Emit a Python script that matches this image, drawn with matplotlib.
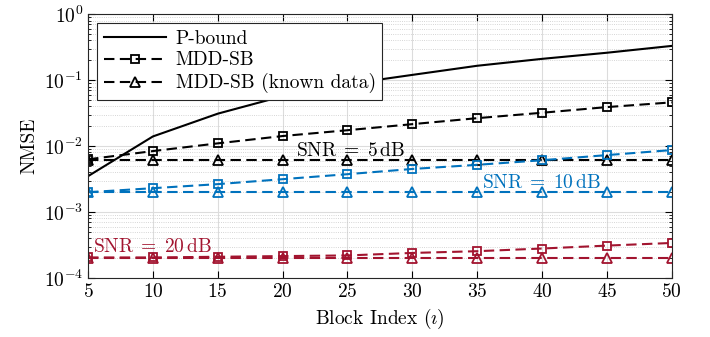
import numpy as np
import matplotlib
matplotlib.use("Agg")
import matplotlib.pyplot as plt

plt.rcParams['font.family'] = 'serif'
plt.rcParams['font.serif'] = ['cmr10']
plt.rcParams['mathtext.fontset'] = 'cm'
plt.rcParams['axes.formatter.use_mathtext'] = True

blocks = [5, 10, 15, 20, 25, 30, 35, 40, 45, 50]

p_bound = [3.5e-3, 0.014, 0.031, 0.057, 0.087, 0.12, 0.165, 0.21, 0.26, 0.33]

mdd_5 = [6.3e-3, 8.4e-3, 0.011, 0.0142, 0.0174, 0.0215, 0.0265, 0.032, 0.039, 0.046]
known_5 = [6.2e-3] * 10

mdd_10 = [2.0e-3, 2.3e-3, 2.65e-3, 3.15e-3, 3.75e-3, 4.5e-3, 5.2e-3, 6.1e-3, 7.3e-3, 8.7e-3]
known_10 = [2.0e-3] * 10

mdd_20 = [2.05e-4, 2.05e-4, 2.1e-4, 2.15e-4, 2.2e-4, 2.4e-4, 2.55e-4, 2.8e-4, 3.1e-4, 3.4e-4]
known_20 = [2.0e-4] * 10

black = 'k'
blue = '#0072BD'
red = '#A2142F'

fig = plt.figure(figsize=(7.1, 3.37), dpi=100)
ax = fig.add_axes([0.124, 0.175, 0.822, 0.783])

lw = 1.5
ms = 5.5
dash = (0, (5, 2.6))
style = dict(lw=lw, ls=dash, mfc='none', mew=1.3)
ax.semilogy(blocks, p_bound, '-', color=black, lw=lw, label='P-bound')
ax.semilogy(blocks, mdd_5, marker='s', color=black, ms=ms, label='MDD-SB', **style)
ax.semilogy(blocks, known_5, marker='^', color=black, ms=ms + 1,
            label='MDD-SB (known data)', **style)
ax.semilogy(blocks, mdd_10, marker='s', color=blue, ms=ms, **style)
ax.semilogy(blocks, known_10, marker='^', color=blue, ms=ms + 1, **style)
ax.semilogy(blocks, mdd_20, marker='s', color=red, ms=ms, **style)
ax.semilogy(blocks, known_20, marker='^', color=red, ms=ms + 1, **style)

ax.set_xlim(5, 50)
ax.set_ylim(1e-4, 1)
ax.set_xticks(blocks)
ax.grid(True, which='major', color='#dcdcdc', lw=0.8)
ax.grid(True, which='minor', color='#c8c8c8', lw=0.6, ls=':')
ax.tick_params(which='both', direction='in', top=True, right=True, labelsize=14)
ax.tick_params(which='major', length=5)
ax.tick_params(which='minor', length=2.5)
for s in ax.spines.values():
    s.set_linewidth(0.8)
    s.set_color('#262626')

ax.set_xlabel(r'Block Index ($\imath$)', fontsize=14)
ax.set_ylabel('NMSE', fontsize=14)

ax.text(21.0, 7.2e-3, r'$\mathrm{SNR}\;=\;5\,\mathrm{dB}$', color=black, fontsize=14)
ax.text(35.4, 2.35e-3, r'$\mathrm{SNR}\;=\;10\,\mathrm{dB}$', color=blue, fontsize=14)
ax.text(5.4, 2.5e-4, r'$\mathrm{SNR}\;=\;20\,\mathrm{dB}$', color=red, fontsize=14)

leg = ax.legend(loc='upper left', fontsize=14, fancybox=False, framealpha=1,
                edgecolor='#262626', handlelength=3.2, borderaxespad=0.45,
                labelspacing=0.2, borderpad=0.35, handletextpad=0.5)
leg.get_frame().set_linewidth(0.8)

fig.savefig('out.png', dpi=100)
